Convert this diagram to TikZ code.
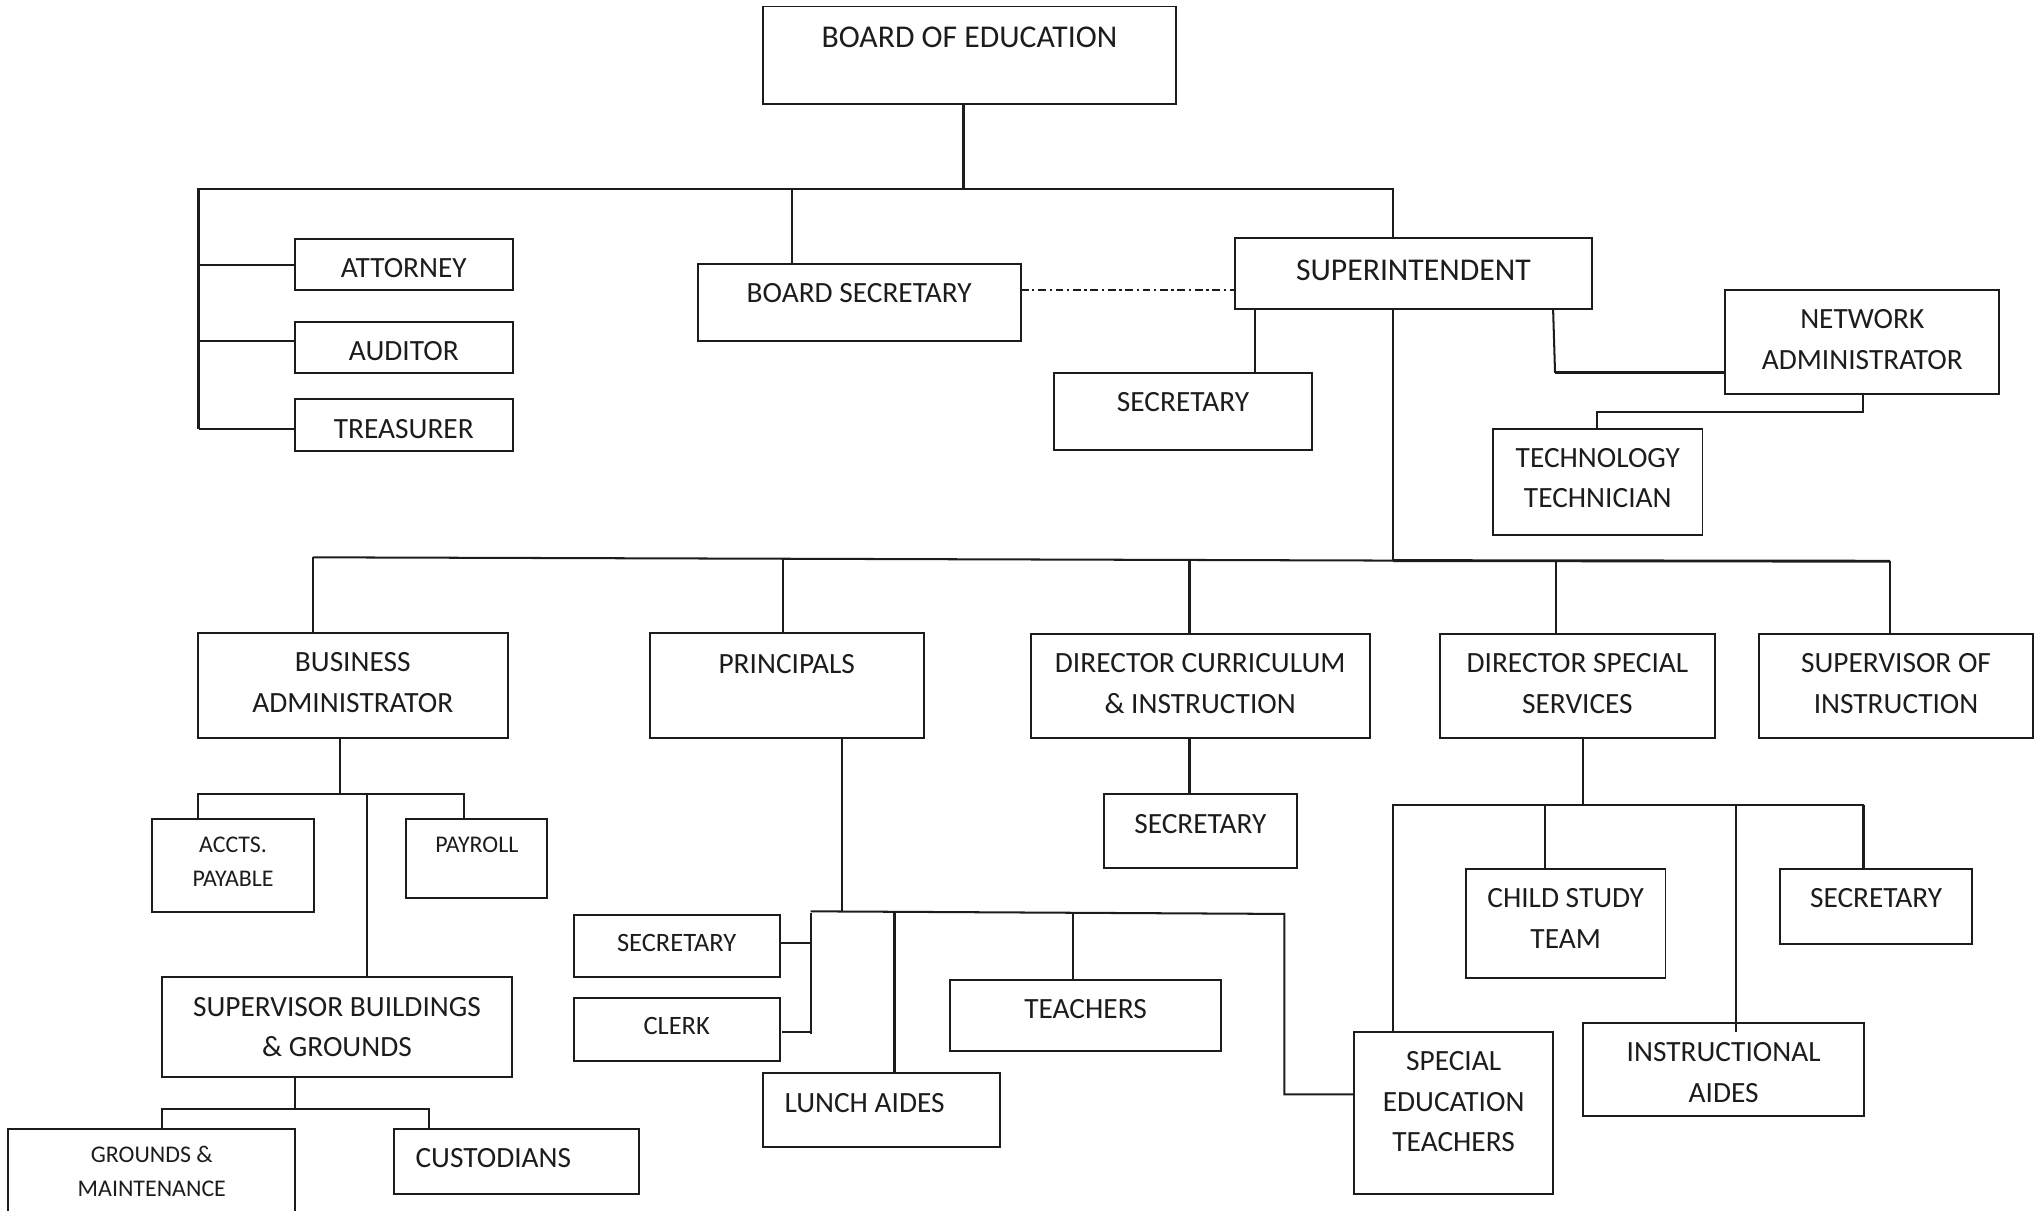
\documentclass[tikz,border=0pt]{standalone}
\usepackage{fontspec}
\setmainfont{Carlito}
\usetikzlibrary{fit}
\definecolor{ink}{RGB}{30,27,28}
% #1 label style, #2 name, #3 x1, #4 y1, #5 x2, #6 y2, #7 text centre y, #8 text
\newcommand\orgbox[8][lbl]{%
  \node[box, fit={(#3,#4) (#5,#6)}] (#2) {};
  \node[#1] (#2-t) at ({(#3+#5)/2},#7) {#8};}
\begin{document}
\begin{tikzpicture}[x=0.5pt,y=-0.5pt,
  box/.style={draw=ink, line width=0.75pt, inner sep=0pt, outer sep=0pt, rectangle},
  ln/.style={draw=ink, line width=0.78pt},
  thk/.style={draw=ink, line width=1.1pt},
  lbl/.style={text=ink, align=center, inner sep=0pt, font=\fontsize{11.3}{15.6}\selectfont},
  lblL/.style={lbl, font=\fontsize{12.2}{16}\selectfont},
  lblS/.style={lbl, font=\fontsize{10.2}{14}\selectfont},
  lblXS/.style={lbl, font=\fontsize{9.2}{13}\selectfont},
  dashdot/.style={draw=ink, line width=0.7pt, dash pattern=on 3pt off 1.4pt on 0.9pt off 1.4pt}]
\useasboundingbox (0,0) rectangle (1568,932);
\clip (0,0) rectangle (1568,932);

% ---------- boxes ----------
\orgbox[lblL]{boe}{587}{5}{905.5}{80.3}{28.7}{BOARD OF EDUCATION}
\orgbox{att}{227}{184}{394.7}{223.3}{206.2}{ATTORNEY}
\orgbox{aud}{227}{247.8}{394.7}{287.2}{270.1}{AUDITOR}
\orgbox{tre}{227}{307.3}{394.7}{347}{330}{TREASURER}
\orgbox{bsec}{537}{203}{785.7}{262.2}{225.3}{BOARD SECRETARY}
\orgbox[lblL]{sup}{950.4}{183.5}{1225.5}{237.7}{207.7}{SUPERINTENDENT}
\orgbox{ssec}{811.4}{287.2}{1010}{346.5}{309.3}{SECRETARY}
\orgbox{net}{1328}{223.2}{1539}{303.3}{261.3}{NETWORK\\ADMINISTRATOR}
\orgbox{tech}{1149.3}{330}{1310.5}{411.5}{368}{TECHNOLOGY\\TECHNICIAN}
\orgbox{ba}{152.3}{487.5}{390.8}{567.8}{525.6}{BUSINESS\\ADMINISTRATOR}
\orgbox{pri}{500.1}{487.5}{711}{567.8}{511}{PRINCIPALS}
\orgbox{dcur}{793.3}{488}{1054.4}{568}{526}{DIRECTOR CURRICULUM\\\& INSTRUCTION}
\orgbox{dss}{1108.5}{488}{1320}{568}{526}{DIRECTOR SPECIAL\\SERVICES}
\orgbox{soi}{1354}{488}{1565}{568}{526}{SUPERVISOR OF\\INSTRUCTION}
\orgbox[lblXS]{acc}{117.3}{630.4}{241.5}{702.3}{663.5}{ACCTS.\\PAYABLE}
\orgbox[lblXS]{pay}{312.8}{630.4}{421.3}{691.5}{650.5}{PAYROLL}
\orgbox{sbg}{124.4}{752}{394.4}{828.8}{790.7}{SUPERVISOR BUILDINGS\\\& GROUNDS}
\orgbox[lblXS]{gm}{6.4}{868.8}{227.3}{960}{901.6}{GROUNDS \&\\MAINTENANCE}
\node[box, fit={(303,868.8) (491.6,919.3)}] (cus) {};
\node[lbl, anchor=west] (cus-t) at (319.5,891.1) {CUSTODIANS};
\orgbox[lblS]{psec}{441.6}{704.1}{600.2}{752.3}{725.6}{SECRETARY}
\orgbox[lblS]{clk}{441.6}{768.2}{600.2}{816.7}{789.5}{CLERK}
\node[box, fit={(587,825.7) (769.5,883.2)}] (lunch) {};
\node[lbl, anchor=west] (lunch-t) at (603.5,848.8) {LUNCH AIDES};
\orgbox{tea}{731.3}{754.4}{940}{808.8}{777}{TEACHERS}
\orgbox{dsec}{850}{611}{998}{668.5}{634}{SECRETARY}
\orgbox{sped}{1042.2}{794.1}{1195.7}{919.4}{848.2}{SPECIAL\\EDUCATION\\TEACHERS}
\orgbox{cst}{1128.4}{668.7}{1282}{752.6}{707}{CHILD STUDY\\TEAM}
\orgbox{spsec}{1370.2}{668.7}{1518.2}{726.7}{691.5}{SECRETARY}
\orgbox{ia}{1218.8}{787.2}{1434.8}{858.8}{825.5}{INSTRUCTIONAL\\AIDES}

% ---------- junction coordinates ----------
\coordinate (j0) at (741.8,145.5);
\coordinate (jl) at (152.8,145.5);
\coordinate (jr) at (1072.3,145.5);
\coordinate (jb) at (152.8,330.2);
\coordinate (k0) at (241,429);
\coordinate (k1) at (1072.3,431.5);
\coordinate (k2) at (1455,432);

% ---------- level 1 ----------
\draw[thk] (boe.south -| j0) -- (j0);
\draw[ln] (jb) -- (jl) -- (jr) -- (sup.north -| jr);
\draw[ln] (jl |- att.west) -- (att.west);
\draw[ln] (152.8,262.2) -- (aud.west |- 0,262.2);
\draw[ln] (jb) -- (tre.west |- jb);
\draw[ln] (bsec.north -| 609.7,0) -- (609.7,145.5);
\draw[dashdot] (bsec.east |- 0,223) -- (sup.west |- 0,223);
\draw[ln] (sup.south -| 966,0) -- (ssec.north -| 966,0);
\draw[ln] (sup.south -| 1195.5,0) -- (1197,287);
\draw[thk] (1196.6,287) -- (net.west |- 0,287);
\draw[ln] (net.south -| 1434,0) -- (1434,317.4) -- (1229,317.4) -- (tech.north -| 1229,0);

% ---------- level 2 ----------
\draw[ln] (sup.south -| k1) -- (k1);
\draw[ln] (k0) -- (k1);
\draw[thk] (k1) -- (k2);
\draw[ln] (k0) -- (ba.north -| k0);
\draw[ln] (602.7,430.1) -- (pri.north -| 602.7,0);
\draw[thk] (915.6,431) -- (dcur.north -| 915.6,0);
\draw[ln] (1197.6,431.9) -- (dss.north -| 1197.6,0);
\draw[ln] (k2) -- (soi.north -| k2);

% ---------- business administrator ----------
\draw[ln] (ba.south -| 261.7,0) -- (261.7,611.5);
\draw[ln] (acc.north -| 152.4,0) -- (152.4,611.5) -- (357.4,611.5) -- (pay.north -| 357.4,0);
\draw[ln] (282.5,611.5) -- (sbg.north -| 282.5,0);
\draw[ln] (sbg.south -| 227.1,0) -- (227.1,853.7);
\draw[ln] (gm.north -| 124.4,0) -- (124.4,853.7) -- (330.2,853.7) -- (cus.north -| 330.2,0);

% ---------- principals ----------
\draw[ln] (pri.south -| 648.2,0) -- (648.2,702.1);
\draw[ln] (624,701.5) -- (988.6,703.5) -- (988.6,842.4) -- (sped.west |- 0,842.4);
\draw[ln] (624,703) -- (624,796);
\draw[ln] (psec.east |- 0,725.9) -- (624,725.9);
\draw[thk] (602,794.4) -- (624,794.4);
\draw[thk] (688.4,702.8) -- (lunch.north -| 688.4,0);
\draw[ln] (826,703.1) -- (tea.north -| 826,0);

% ---------- director curriculum ----------
\draw[thk] (dcur.south -| 915.6,0) -- (dsec.north -| 915.6,0);

% ---------- director special services ----------
\draw[ln] (dss.south -| 1218.8,0) -- (1218.8,620);
\draw[ln] (sped.north -| 1072.3,0) -- (1072.3,620) -- (1434.5,620);
\draw[thk] (1434.5,620) -- (spsec.north -| 1434.5,0);
\draw[ln] (1189.4,620) -- (cst.north -| 1189.4,0);
\draw[ln] (1336.3,620) -- (1336.3,794);
\end{tikzpicture}
\end{document}
